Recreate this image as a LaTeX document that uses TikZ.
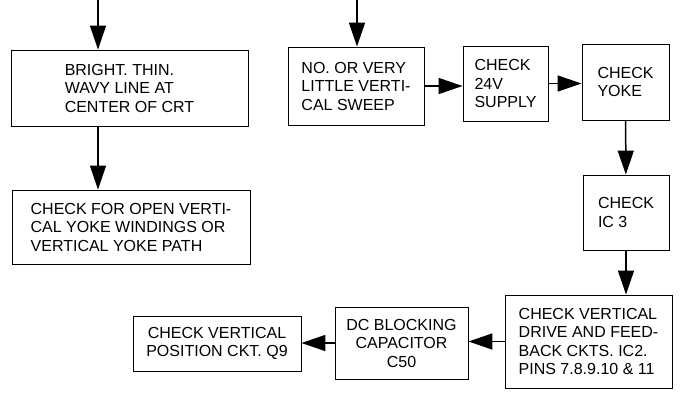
\documentclass[tikz,border=0pt]{standalone}
\usepackage{fontspec}
\setmainfont{Liberation Sans}
\usetikzlibrary{arrows.meta}
\tikzset{arr/.style={-{Triangle[length=24pt,width=16pt]}}}
\tikzset{box/.style={draw,line width=0.9pt,inner sep=0pt,font=\fontsize{16}{18.5}\selectfont}}

\begin{document}
\begin{tikzpicture}[x=1pt,y=-1pt,line width=1.5pt]
            \draw[draw=none,use as bounding box] (0,0) rectangle (682,393);
            \coordinate (in1) at (98,0){};
            \coordinate (in2) at (357,0){};
            \node[box,align=left,minimum width=237,minimum height=76] (bright) at (129.5,88) {BRIGHT. THIN.\\WAVY LINE AT\\CENTER OF CRT};
            \node[box,align=left,minimum width=238,minimum height=74] (openyoke) at (131,227) {CHECK FOR OPEN VERTI-\\CAL YOKE WINDINGS OR\\VERTICAL YOKE PATH};
            \node[box,align=left,minimum width=136,minimum height=78] (sweep) at (356,86) {NO. OR VERY\\LITTLE VERTI-\\CAL SWEEP};
            \node[box,align=left,minimum width=85,minimum height=75] (supply) at (505.5,83.5) {CHECK\\24V\\SUPPLY};
            \node[box,align=left,minimum width=87,minimum height=76] (yoke) at (625.5,82) {CHECK\\YOKE};
            \node[box,align=left,minimum width=86,minimum height=75] (ic3) at (626,212.5) {CHECK\\IC 3};
            \node[box,align=left,minimum width=167,minimum height=93] (drive) at (588.5,341.5) {CHECK VERTICAL\\DRIVE AND FEED-\\BACK CKTS. IC2.\\PINS 7.8.9.10 \& 11};
            \node[box,align=center,minimum width=133,minimum height=72] (dcblock) at (401.5,343) {DC BLOCKING\\CAPACITOR\\C50};
            \node[box,align=center,minimum width=168,minimum height=55] (position) at (217,343.5) {CHECK VERTICAL\\POSITION CKT. Q9};
            \draw[arr] (in1) -- (in1 |- bright.north);
            \draw[arr] (bright.south -| in1) -- (openyoke.north -| in1);
            \draw[arr] (in2) -- (in2 |- sweep.north);
            \draw[arr] (sweep.east) -- (sweep.east -| supply.west);
            \draw[arr] (supply.east) -- (supply.east -| yoke.west);
            \draw[arr] (yoke) -- (ic3);
            \draw[arr] (ic3.south) -- (ic3.south |- drive.north);
            \draw[arr] (drive.west) -- (drive.west -| dcblock.east);
            \draw[arr] (dcblock.west) -- (dcblock.west -| position.east);
        \end{tikzpicture}
\end{document}
